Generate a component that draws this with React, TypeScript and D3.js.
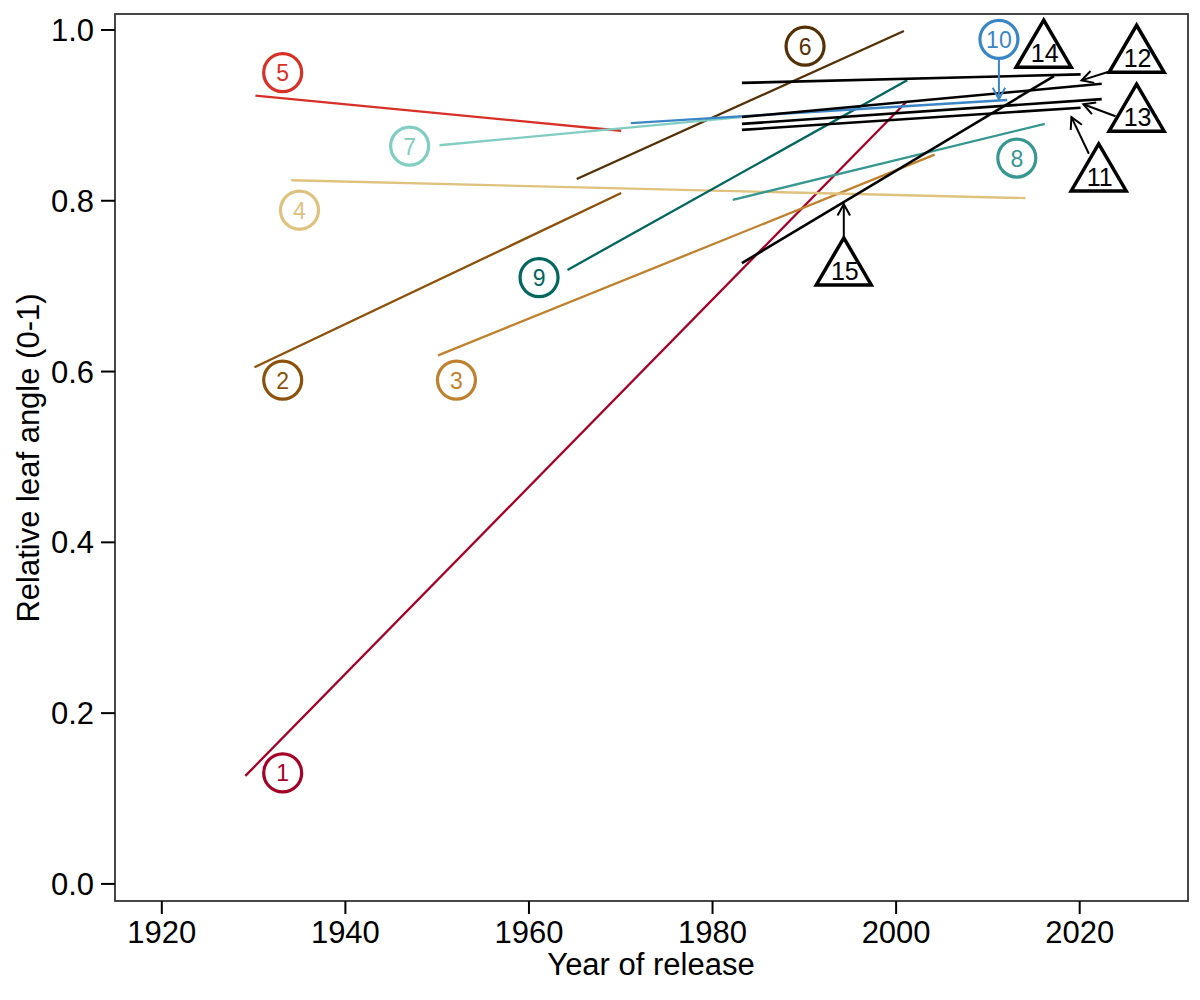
import React from 'react';
import * as d3 from 'd3';

// trend lines: [start year, start value, end year, end value]
const lineIds = ['1', '2', '3', '4', '5', '6', '7', '8', '9', '10', '11', '12', '13', '14', '15'];
const lineStart = [
  [1929.1, 0.1265], [1930.1, 0.605], [1950.1, 0.619], [1934.1, 0.824], [1930.2, 0.923],
  [1965.2, 0.8255], [1950.25, 0.865], [1982.2, 0.801], [1964.2, 0.719], [1971.1, 0.891],
  [1983.2, 0.883], [1983.2, 0.898], [1983.2, 0.89], [1983.2, 0.938], [1983.2, 0.727],
];
const lineEnd = [
  [2001.1, 0.9157], [1970.05, 0.809], [2004.2, 0.854], [2014.1, 0.803], [1970.05, 0.882],
  [2000.85, 0.9988], [1983.1, 0.898], [2016.2, 0.89], [2001.2, 0.941], [2012.1, 0.918],
  [2020.1, 0.909], [2022.4, 0.937], [2022.4, 0.919], [2020.1, 0.948], [2017.2, 0.946],
];
const lineColors = [
  '#a50026', '#8c510a', '#bf812d', '#dfc27d', '#d73027',
  '#543005', '#80cdc1', '#35978f', '#01665e', '#3a85c5',
  '#000000', '#000000', '#000000', '#000000', '#000000',
];

// circled labels (studies 1-10)
const circleIds = ['1', '2', '3', '4', '5', '6', '7', '8', '9', '10'];
const circlePos = [
  [1933.17, 0.13], [1933.17, 0.59], [1952.1, 0.59], [1935.0, 0.789], [1933.17, 0.95],
  [1990.08, 0.981], [1947.0, 0.864], [2013.15, 0.85], [1961.1, 0.71], [2011.2, 0.989],
];

// triangle labels (studies 11-15)
const triangleIds = ['11', '12', '13', '14', '15'];
const trianglePos = [[2022.07, 0.839], [2026.2, 0.978], [2026.2, 0.909], [2016.08, 0.984], [1994.3, 0.729]];

// pointer arrows: [from year, from value, to year, to value]
const arrowColors = ['#3a85c5', '#000000', '#000000', '#000000', '#000000'];
const arrows = [
  [2011.2, 0.967, 2011.2, 0.919],
  [2023.15, 0.951, 2020.2, 0.941],
  [2023.9, 0.899, 2020.4, 0.913],
  [2021.0, 0.855, 2019.1, 0.898],
  [1994.3, 0.758, 1994.3, 0.796],
];

const xTicks = [1920, 1940, 1960, 1980, 2000, 2020];
const yTicks = [0, 0.2, 0.4, 0.6, 0.8, 1.0];

const width = 1200;
const height = 1000;
const margin = { top: 14, right: 12, bottom: 99, left: 115 };

const App: React.FC = () => {
  const x = d3
    .scaleLinear()
    .domain([1914.9, 2031.8])
    .range([margin.left, width - margin.right]);
  const y = d3
    .scaleLinear()
    .domain([-0.02, 1.0187])
    .range([height - margin.bottom, margin.top]);

  const font = 'Liberation Sans, Arial, Helvetica, sans-serif';
  const triW = 55;
  const triH = 47;

  return (
    <svg
      width={width}
      height={height}
      style={{ position: 'absolute', left: 0, top: 0, background: '#fff' }}
      fontFamily={font}
    >
      {/* trend lines */}
      {lineIds.map((id, i) => (
        <line
          key={`l${id}`}
          x1={x(lineStart[i][0])}
          y1={y(lineStart[i][1])}
          x2={x(lineEnd[i][0])}
          y2={y(lineEnd[i][1])}
          stroke={lineColors[i]}
          strokeWidth={lineColors[i] === '#000000' ? 2.6 : 2.3}
        />
      ))}

      {/* arrows */}
      {arrows.map((a, i) => {
        const x1 = x(a[0]);
        const y1 = y(a[1]);
        const x2 = x(a[2]);
        const y2 = y(a[3]);
        const ang = Math.atan2(y1 - y2, x1 - x2);
        const len = 13;
        const spread = 0.5;
        const h1 = [x2 + len * Math.cos(ang + spread), y2 + len * Math.sin(ang + spread)];
        const h2 = [x2 + len * Math.cos(ang - spread), y2 + len * Math.sin(ang - spread)];
        return (
          <g key={`a${i}`} stroke={arrowColors[i]} strokeWidth={2} fill="none">
            <line x1={x1} y1={y1} x2={x2} y2={y2} />
            <polyline points={`${h1[0]},${h1[1]} ${x2},${y2} ${h2[0]},${h2[1]}`} />
          </g>
        );
      })}

      {/* circled labels */}
      {circleIds.map((id, i) => {
        const cx = x(circlePos[i][0]);
        const cy = y(circlePos[i][1]);
        return (
          <g key={`c${id}`}>
            <circle cx={cx} cy={cy} r={19} fill="#fff" stroke={lineColors[i]} strokeWidth={3.2} />
            <text
              x={cx}
              y={cy + 8.5}
              textAnchor="middle"
              fontSize={23}
              fill={lineColors[i]}
            >
              {id}
            </text>
          </g>
        );
      })}

      {/* triangle labels */}
      {triangleIds.map((id, i) => {
        const cx = x(trianglePos[i][0]);
        const cy = y(trianglePos[i][1]);
        const pts = [
          [cx, cy - triH / 2],
          [cx + triW / 2, cy + triH / 2],
          [cx - triW / 2, cy + triH / 2],
        ];
        return (
          <g key={`t${id}`}>
            <polygon
              points={pts.map((p) => p.join(',')).join(' ')}
              fill="#fff"
              stroke="#000"
              strokeWidth={3.5}
              strokeLinejoin="miter"
            />
            <text x={cx + 1} y={cy + 18.5} textAnchor="middle" fontSize={25} fill="#000">
              {id}
            </text>
          </g>
        );
      })}

      {/* frame */}
      <rect
        x={margin.left}
        y={margin.top}
        width={width - margin.left - margin.right}
        height={height - margin.top - margin.bottom}
        fill="none"
        stroke="#333"
        strokeWidth={1.8}
      />

      {/* x axis */}
      {xTicks.map((t) => (
        <g key={`xt${t}`}>
          <line
            x1={x(t)}
            x2={x(t)}
            y1={height - margin.bottom}
            y2={height - margin.bottom + 13}
            stroke="#000"
            strokeWidth={2}
          />
          <text x={x(t)} y={height - margin.bottom + 42} textAnchor="middle" fontSize={31} fill="#000">
            {t}
          </text>
        </g>
      ))}
      <text x={651} y={975} textAnchor="middle" fontSize={31} fill="#000">
        Year of release
      </text>

      {/* y axis */}
      {yTicks.map((t) => (
        <g key={`yt${t}`}>
          <line
            x1={margin.left - 14}
            x2={margin.left}
            y1={y(t)}
            y2={y(t)}
            stroke="#000"
            strokeWidth={2}
          />
          <text x={margin.left - 21} y={y(t) + 11} textAnchor="end" fontSize={31} fill="#000">
            {t.toFixed(1)}
          </text>
        </g>
      ))}
      <text
        transform={`translate(39,458) rotate(-90)`}
        textAnchor="middle"
        fontSize={31}
        fill="#000"
      >
        Relative leaf angle (0-1)
      </text>
    </svg>
  );
};

export default App;
